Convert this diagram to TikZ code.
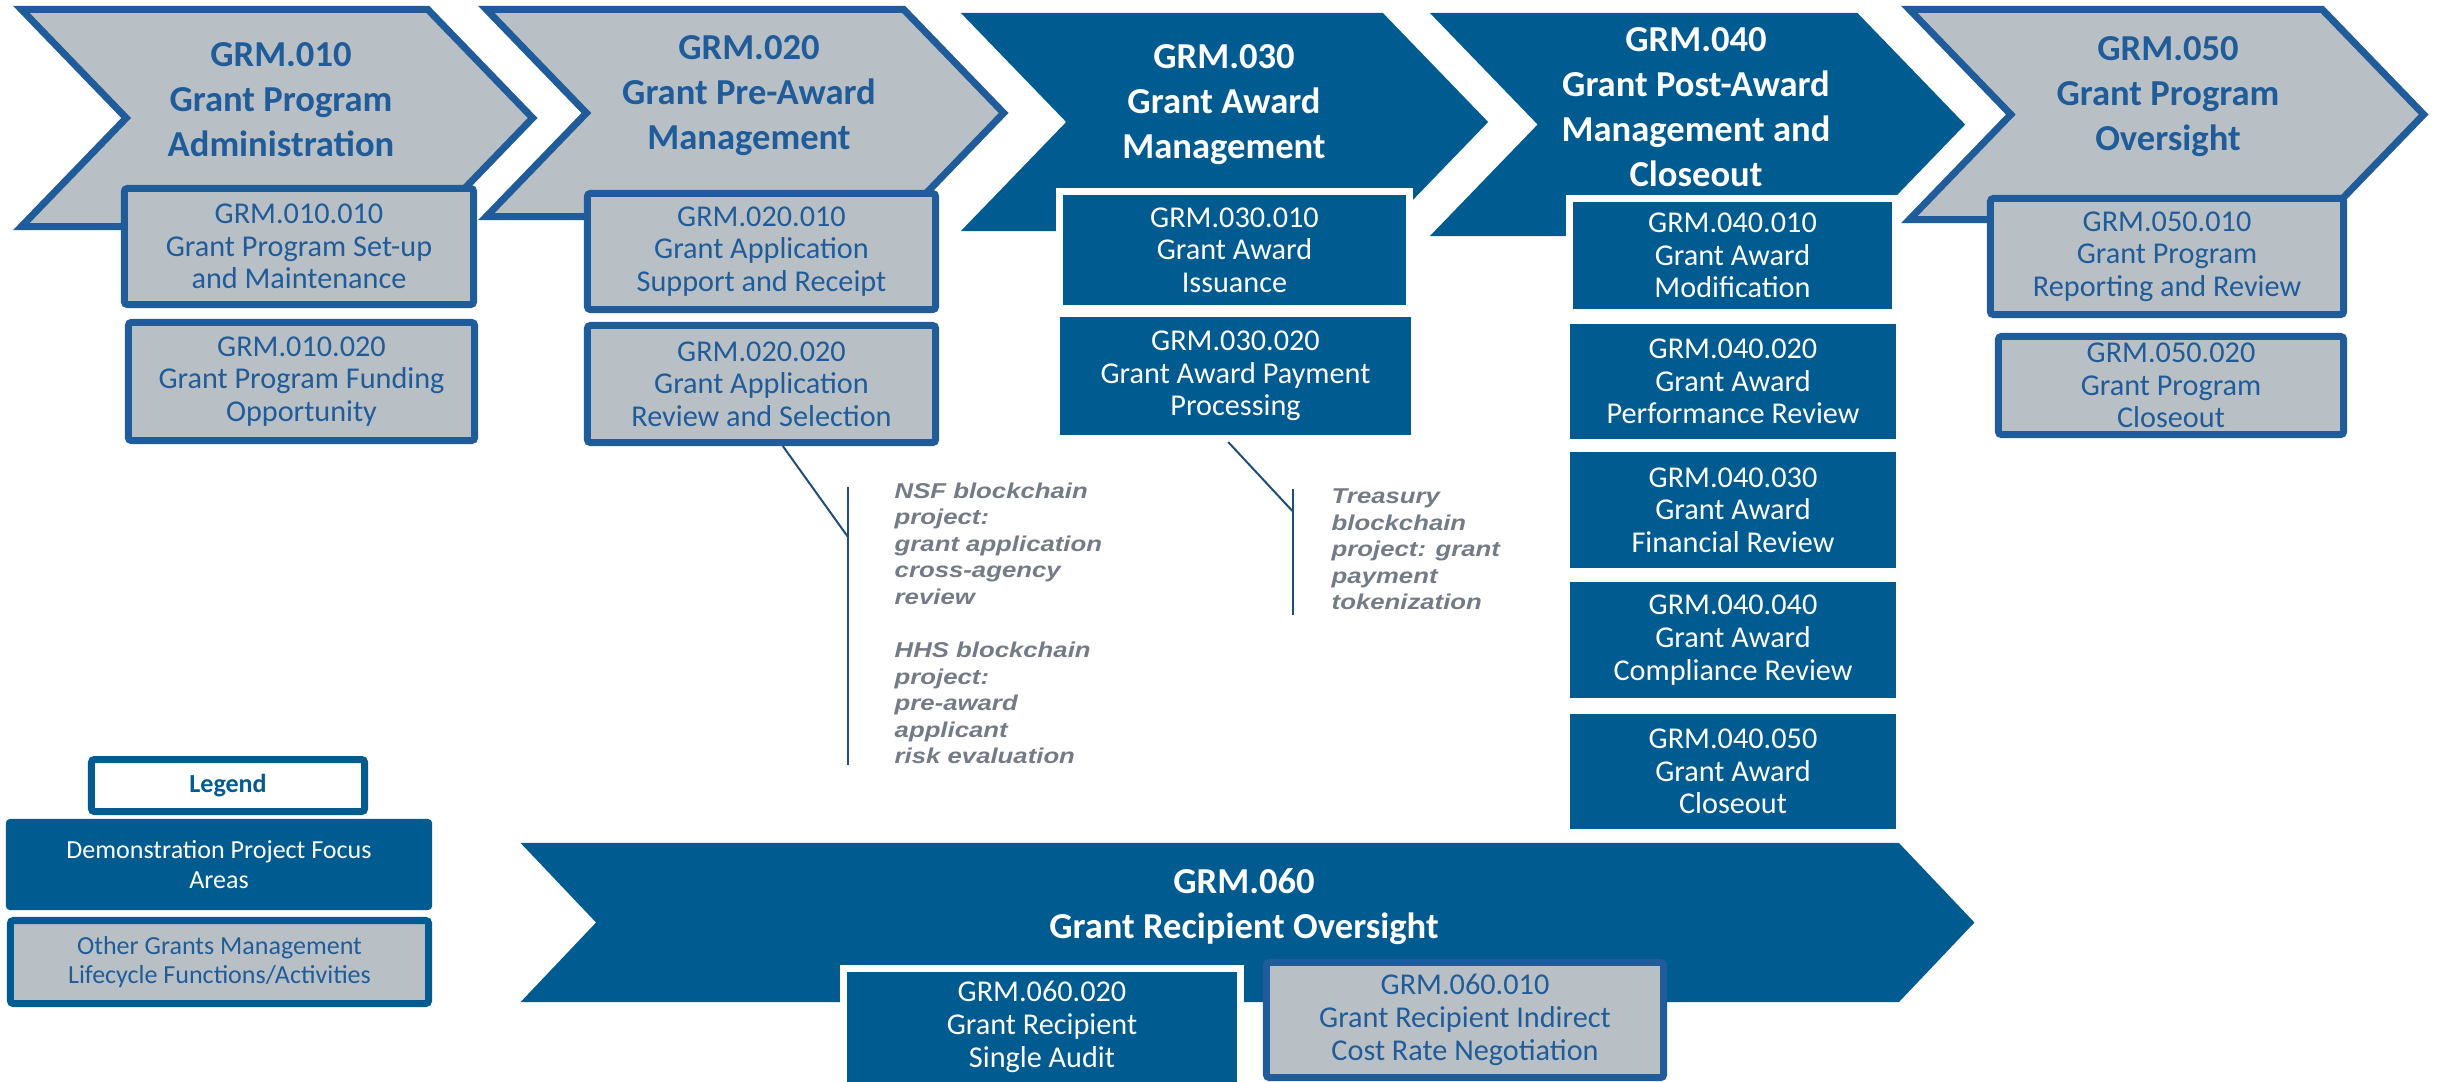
\documentclass[tikz,border=0pt]{standalone}
\usepackage{fontspec}
\setmainfont{Carlito}
\newfontfamily\notefont[FakeStretch=1.2]{Liberation Sans}
\usepackage{tikz}
\usetikzlibrary{shapes.symbols,positioning,calc}

\definecolor{grmblue}{RGB}{0,91,145}
\definecolor{grmedge}{RGB}{31,92,153}
\definecolor{grmgray}{RGB}{185,192,197}
\definecolor{notegray}{RGB}{115,123,134}
\definecolor{noteline}{RGB}{31,78,121}

\begin{document}
\begin{tikzpicture}[
    x=0.01cm, y=-0.01cm,
    chevron/.style={signal, signal from=west, signal to=east,
        signal pointer angle=92, inner sep=0pt},
    focuschev/.style={chevron, fill=grmblue},
    otherchev/.style={chevron, fill=grmgray, draw=grmedge, line width=0.07cm},
    focustitle/.style={align=center, inner sep=0pt, text=white,
        font=\fontsize{10.4}{12.8}\selectfont\bfseries},
    othertitle/.style={focustitle, text=grmedge},
    focusbox/.style={rectangle, fill=grmblue, draw=white, line width=0.07cm,
        text=white, align=center, inner sep=0pt,
        font=\fontsize{8.6}{9.3}\selectfont},
    otherbox/.style={rectangle, rounded corners=0.03cm, fill=grmgray,
        draw=grmedge, line width=0.07cm, text=grmedge, align=center,
        inner sep=0pt, font=\fontsize{8.6}{9.3}\selectfont},
    legendbox/.style={rectangle, rounded corners=0.03cm, align=center,
        inner sep=0pt, font=\fontsize{7.4}{8.5}\selectfont},
    note/.style={anchor=north west, align=left, inner sep=0pt, text=notegray,
        font=\notefont\fontsize{6.1}{7.55}\selectfont\bfseries\itshape},
    noteedge/.style={draw=noteline, line width=0.02cm}
]
\useasboundingbox (0,0) rectangle (2440,1081);

% lifecycle chevrons
\node[otherchev, minimum width=5.11cm, minimum height=2.17cm] (c010) at (277,118) {};
\node[otherchev, minimum width=5.17cm, minimum height=2.07cm] (c020) at (745,113) {};
\node[focuschev, minimum width=5.27cm, minimum height=2.18cm] (c030) at (1224.5,122) {};
\node[focuschev, minimum width=5.35cm, minimum height=2.23cm] (c040) at (1697.5,124.5) {};
\node[otherchev, minimum width=5.14cm, minimum height=2.10cm] (c050) at (2166.5,114.5) {};
\node[focuschev, signal pointer angle=93, minimum width=14.53cm, minimum height=1.59cm] (c060) at (1247.5,922.5) {};

\node[othertitle] (t010) at (281,100) {GRM.010\\Grant Program\\Administration};
\node[othertitle] (t020) at (749,96) {GRM.020\\Grant Pre-Award\\Management};
\node[focustitle] (t030) at (1224,105) {GRM.030\\Grant Award\\Management};
\node[focustitle] (t040) at (1696,107) {GRM.040\\Grant Post-Award\\Management and\\Closeout};
\node[othertitle] (t050) at (2168,97) {GRM.050\\Grant Program\\Oversight};
\node[focustitle] (t060) at (1244,906.5) {GRM.060\\Grant Recipient Oversight};

% activities
\node[otherbox, minimum width=3.49cm, minimum height=1.16cm] (g010010) at (299,246.5) {GRM.010.010\\Grant Program Set-up\\and Maintenance};
\node[otherbox, minimum width=3.46cm, minimum height=1.18cm] (g010020) at (301.5,381.5) {GRM.010.020\\Grant Program Funding\\Opportunity};
\node[otherbox, minimum width=3.48cm, minimum height=1.16cm] (g020010) at (761.5,251.5) {GRM.020.010\\Grant Application\\Support and Receipt};
\node[otherbox, minimum width=3.48cm, minimum height=1.17cm] (g020020) at (761.5,384) {GRM.020.020\\Grant Application\\Review and Selection};
\node[focusbox, minimum width=3.50cm, minimum height=1.17cm] (g030010) at (1234.5,250) {GRM.030.010\\Grant Award\\Issuance};
\node[focusbox, minimum width=3.58cm, minimum height=1.25cm] (g030020) at (1235.5,376) {GRM.030.020\\Grant Award Payment\\Processing};
\node[focusbox, minimum width=3.26cm, minimum height=1.14cm] (g040010) at (1732.5,255.5) {GRM.040.010\\Grant Award\\Modification};
\node[focusbox, minimum width=3.33cm, minimum height=1.22cm] (g040020) at (1733,381.5) {GRM.040.020\\Grant Award\\Performance Review};
\node[focusbox, minimum width=3.33cm, minimum height=1.23cm] (g040030) at (1733,510) {GRM.040.030\\Grant Award\\Financial Review};
\node[focusbox, minimum width=3.33cm, minimum height=1.23cm] (g040040) at (1733,640) {GRM.040.040\\Grant Award\\Compliance Review};
\node[focusbox, minimum width=3.33cm, minimum height=1.22cm] (g040050) at (1733,771.5) {GRM.040.050\\Grant Award\\Closeout};
\node[otherbox, minimum width=3.53cm, minimum height=1.16cm] (g050010) at (2167,256.5) {GRM.050.010\\Grant Program\\Reporting and Review};
\node[otherbox, minimum width=3.45cm, minimum height=0.98cm] (g050020) at (2171,385.5) {GRM.050.020\\Grant Program\\Closeout};
\node[focusbox, minimum width=3.97cm, minimum height=1.17cm] (g060020) at (1042,1027) {GRM.060.020\\Grant Recipient\\Single Audit};
\node[otherbox, minimum width=3.97cm, minimum height=1.15cm] (g060010) at (1465,1020) {GRM.060.010\\Grant Recipient Indirect\\Cost Rate Negotiation};

% blockchain projects
\node[note] (nsf) at (894,482) {NSF blockchain\\project:\\grant application\\cross-agency\\review\\[7.55pt]HHS blockchain\\project:\\pre-award\\applicant\\risk evaluation};
\node[note] (treasury) at (1331,488) {Treasury\\blockchain\\project: grant\\payment\\tokenization};

\coordinate (nsftop) at ([xshift=-0.46cm, yshift=-0.05cm]nsf.north west);
\coordinate (nsfbot) at ([xshift=-0.46cm]nsf.south west);
\coordinate (trstop) at ([xshift=-0.38cm, yshift=-0.01cm]treasury.north west);
\coordinate (trsbot) at ([xshift=-0.38cm, yshift=-0.04cm]treasury.south west);

\draw[noteedge] (nsftop) -- (nsfbot);
\draw[noteedge] ($(g020020.south west)!0.56!(g020020.south east)$) -- ($(nsftop)!0.18!(nsfbot)$);
\draw[noteedge] (trstop) -- (trsbot);
\draw[noteedge] ($(g030020.south west)!0.48!(g030020.south east)$) -- ($(trstop)!0.18!(trsbot)$);

% legend
\node[legendbox, fill=white, draw=grmblue, line width=0.07cm, text=grmblue,
    font=\fontsize{7.4}{8.5}\selectfont\bfseries,
    minimum width=2.73cm, minimum height=0.52cm] (legend) at (228,785.5) {Legend};
\node[legendbox, fill=grmblue, text=white, rounded corners=0.04cm,
    minimum width=4.26cm, minimum height=0.91cm] (demo) at (219,864.5) {Demonstration Project Focus\\Areas};
\node[legendbox, fill=grmgray, draw=grmblue, line width=0.07cm, text=grmedge,
    minimum width=4.18cm, minimum height=0.83cm] (other) at (219.5,962) {Other Grants Management\\Lifecycle Functions/Activities};

\end{tikzpicture}
\end{document}
